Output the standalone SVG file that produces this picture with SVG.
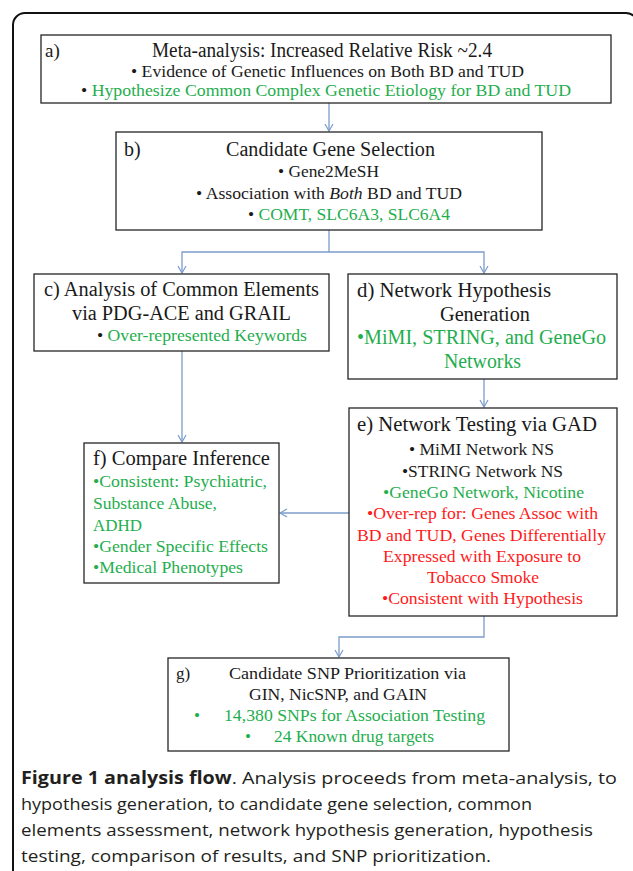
<svg xmlns="http://www.w3.org/2000/svg" width="633" height="871" viewBox="0 0 633 871">
<style>
.box{fill:#fff;stroke:#262626;stroke-width:1.3}
.t{font-family:"Liberation Serif","Times New Roman",serif;fill:#1a1a1a}
.g{fill:#1fae4e}
.r{fill:#ff1a1a}
.k{fill:#1a1a1a}
.c{font-family:"Open Sans","Noto Sans","Liberation Sans",sans-serif;font-size:17px;fill:#231f20}
.con{fill:none;stroke:#7b9ccc;stroke-width:1.3}
</style>
<defs>
<marker id="ah" markerWidth="10" markerHeight="10" refX="8" refY="5" orient="auto" markerUnits="userSpaceOnUse">
<path d="M1,1 L8,5 L1,9" fill="none" stroke="#7b9ccc" stroke-width="1.2"/>
</marker>
</defs>
<rect x="13" y="13" width="625" height="900" rx="12" ry="12" fill="none" stroke="#111" stroke-width="2"/>

<g id="connectors">
<path class="con" d="M329,103 V131" marker-end="url(#ah)"/>
<path class="con" d="M329,230 V252 H182 V273" marker-end="url(#ah)"/>
<path class="con" d="M329,252 H484 V273" marker-end="url(#ah)"/>
<path class="con" d="M484,379 V407" marker-end="url(#ah)"/>
<path class="con" d="M182,351 V442" marker-end="url(#ah)"/>
<path class="con" d="M349,513 H280" marker-end="url(#ah)"/>
<path class="con" d="M484,616 V637 H339 V657" marker-end="url(#ah)"/>
</g>

<g id="node-a">
<rect class="box" x="41" y="35" width="570" height="68"/>
<text class="t" x="45" y="57" font-size="19">a)</text>
<text class="t" x="152" y="57" font-size="20" textLength="340" lengthAdjust="spacingAndGlyphs">Meta-analysis: Increased Relative Risk ~2.4</text>
<text class="t" x="131" y="77" font-size="16.5" textLength="393" lengthAdjust="spacingAndGlyphs">• Evidence of Genetic Influences on Both BD and TUD</text>
<text class="t" x="81" y="96" font-size="16.5" textLength="490" lengthAdjust="spacingAndGlyphs"><tspan class="k">• </tspan><tspan class="g">Hypothesize Common Complex Genetic Etiology for BD and TUD</tspan></text>
</g>

<g id="node-b">
<rect class="box" x="116" y="132" width="426" height="98"/>
<text class="t" x="124" y="156" font-size="20">b)</text>
<text class="t" x="226" y="156" font-size="20" textLength="209" lengthAdjust="spacingAndGlyphs">Candidate Gene Selection</text>
<text class="t" x="278" y="177" font-size="17" textLength="101" lengthAdjust="spacingAndGlyphs">• Gene2MeSH</text>
<text class="t" x="196" y="199" font-size="17" textLength="266" lengthAdjust="spacingAndGlyphs">• Association with <tspan font-style="italic">Both</tspan> BD and TUD</text>
<text class="t" x="248" y="220" font-size="17" textLength="202" lengthAdjust="spacingAndGlyphs"><tspan class="k">• </tspan><tspan class="g">COMT, SLC6A3, SLC6A4</tspan></text>
</g>

<g id="node-c">
<rect class="box" x="34" y="274" width="295" height="77"/>
<text class="t" x="44" y="296" font-size="20" textLength="275" lengthAdjust="spacingAndGlyphs">c)  Analysis of Common Elements</text>
<text class="t" x="72" y="320" font-size="20" textLength="219" lengthAdjust="spacingAndGlyphs">via  PDG-ACE and GRAIL</text>
<text class="t" x="97" y="341" font-size="17" textLength="210" lengthAdjust="spacingAndGlyphs"><tspan class="k">• </tspan><tspan class="g">Over-represented  Keywords</tspan></text>
</g>

<g id="node-d">
<rect class="box" x="348" y="274" width="269" height="105"/>
<text class="t" x="357" y="297" font-size="20" textLength="194" lengthAdjust="spacingAndGlyphs">d)   Network Hypothesis</text>
<text class="t" x="440" y="321" font-size="20" textLength="90" lengthAdjust="spacingAndGlyphs">Generation</text>
<text class="t g" x="357" y="344" font-size="20" textLength="249" lengthAdjust="spacingAndGlyphs">•MiMI, STRING, and GeneGo</text>
<text class="t g" x="444" y="368" font-size="20" textLength="77" lengthAdjust="spacingAndGlyphs">Networks</text>
</g>

<g id="node-e">
<rect class="box" x="349" y="408" width="268" height="208"/>
<text class="t" x="357" y="431" font-size="20" textLength="240" lengthAdjust="spacingAndGlyphs">e)   Network Testing via GAD</text>
<text class="t" x="409" y="455" font-size="17" textLength="145" lengthAdjust="spacingAndGlyphs">• MiMI Network NS</text>
<text class="t" x="402" y="477" font-size="17" textLength="161" lengthAdjust="spacingAndGlyphs">•STRING Network NS</text>
<text class="t g" x="383" y="498" font-size="17" textLength="201" lengthAdjust="spacingAndGlyphs">•GeneGo Network, Nicotine</text>
<text class="t r" x="367" y="519" font-size="17" textLength="231" lengthAdjust="spacingAndGlyphs">•Over-rep for: Genes Assoc with</text>
<text class="t r" x="357" y="541" font-size="17" textLength="249" lengthAdjust="spacingAndGlyphs">BD and TUD, Genes Differentially</text>
<text class="t r" x="383" y="562" font-size="17" textLength="198" lengthAdjust="spacingAndGlyphs">Expressed with Exposure to</text>
<text class="t r" x="427" y="583" font-size="17" textLength="112" lengthAdjust="spacingAndGlyphs">Tobacco Smoke</text>
<text class="t r" x="382" y="604" font-size="17" textLength="201" lengthAdjust="spacingAndGlyphs">•Consistent with Hypothesis</text>
</g>

<g id="node-f">
<rect class="box" x="84" y="443" width="195" height="140"/>
<text class="t" x="93" y="465" font-size="20" textLength="177" lengthAdjust="spacingAndGlyphs">f)  Compare Inference</text>
<text class="t g" x="93" y="487" font-size="17" textLength="174" lengthAdjust="spacingAndGlyphs">•Consistent: Psychiatric,</text>
<text class="t g" x="93" y="509" font-size="17" textLength="124" lengthAdjust="spacingAndGlyphs">Substance Abuse,</text>
<text class="t g" x="93" y="531" font-size="17" textLength="49" lengthAdjust="spacingAndGlyphs">ADHD</text>
<text class="t g" x="93" y="552" font-size="17" textLength="175" lengthAdjust="spacingAndGlyphs">•Gender Specific  Effects</text>
<text class="t g" x="93" y="573" font-size="17" textLength="150" lengthAdjust="spacingAndGlyphs">•Medical Phenotypes</text>
</g>

<g id="node-g">
<rect class="box" x="168" y="658" width="341" height="93"/>
<text class="t" x="176" y="679" font-size="17">g)</text>
<text class="t" x="229" y="679" font-size="17" textLength="237" lengthAdjust="spacingAndGlyphs">Candidate SNP Prioritization  via</text>
<text class="t" x="249" y="700" font-size="17" textLength="178" lengthAdjust="spacingAndGlyphs">GIN, NicSNP, and GAIN</text>
<text class="t g" x="194" y="721" font-size="17">•</text>
<text class="t g" x="224" y="721" font-size="17" textLength="261" lengthAdjust="spacingAndGlyphs">14,380 SNPs for Association Testing</text>
<text class="t g" x="245" y="742" font-size="17">•</text>
<text class="t g" x="274" y="742" font-size="17" textLength="160" lengthAdjust="spacingAndGlyphs">24 Known drug targets</text>
</g>

<g id="caption">
<text class="c" x="21" y="784" textLength="596" lengthAdjust="spacingAndGlyphs"><tspan font-weight="bold">Figure 1 analysis flow</tspan>. Analysis proceeds from meta-analysis, to</text>
<text class="c" x="21" y="810" textLength="511" lengthAdjust="spacingAndGlyphs">hypothesis generation, to candidate gene selection, common</text>
<text class="c" x="21" y="836" textLength="572" lengthAdjust="spacingAndGlyphs">elements assessment, network hypothesis generation, hypothesis</text>
<text class="c" x="21" y="862" textLength="470" lengthAdjust="spacingAndGlyphs">testing, comparison of results, and SNP prioritization.</text>
</g>
</svg>
